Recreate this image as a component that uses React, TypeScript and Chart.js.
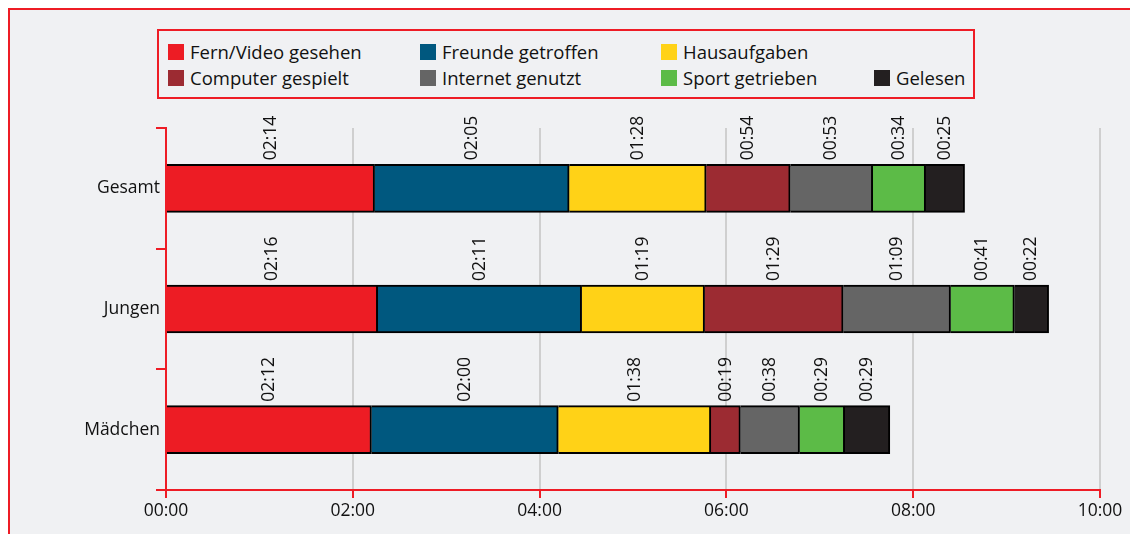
import React, { useEffect, useRef } from "react";
import { Chart, registerables } from "chart.js";

Chart.register(...registerables);

const categories = ["Gesamt", "Jungen", "Mädchen"];
const activityNames = [
  "Fern/Video gesehen",
  "Freunde getroffen",
  "Hausaufgaben",
  "Computer gespielt",
  "Internet genutzt",
  "Sport getrieben",
  "Gelesen",
];
// minutes per day, order: Gesamt, Jungen, Mädchen
const fernVideo = [134, 136, 132];
const freunde = [125, 131, 120];
const hausaufgaben = [88, 79, 98];
const computer = [54, 89, 19];
const internet = [53, 69, 38];
const sport = [34, 41, 29];
const gelesen = [25, 22, 29];
const seriesValues = [fernVideo, freunde, hausaufgaben, computer, internet, sport, gelesen];
const seriesColors = ["#ed1c24", "#00587f", "#ffd217", "#9c2b32", "#656565", "#5cbb47", "#231f20"];
const xTickValues = [0, 120, 240, 360, 480, 600];

const RED = "#ee1c25";
const FONT = "'Open Sans', 'Noto Sans', sans-serif";
const TEXT = "#111111";

function fmt(min: number): string {
  const h = Math.floor(min / 60);
  const m = Math.round(min % 60);
  return String(h).padStart(2, "0") + ":" + String(m).padStart(2, "0");
}

const labelPlugin = {
  id: "segLabels",
  afterDatasetsDraw(chart: any) {
    const ctx = chart.ctx;
    ctx.save();
    ctx.font = "17.5px " + FONT;
    ctx.fillStyle = TEXT;
    ctx.textAlign = "left";
    ctx.textBaseline = "middle";
    chart.data.datasets.forEach((ds: any, di: number) => {
      const meta = chart.getDatasetMeta(di);
      meta.data.forEach((bar: any, i: number) => {
        const p = bar.getProps(["x", "y", "base", "height"], true);
        const cx = (p.x + p.base) / 2;
        const top = p.y - p.height / 2;
        ctx.save();
        ctx.translate(cx, top - 4);
        ctx.rotate(-Math.PI / 2);
        ctx.fillText(fmt(ds.data[i]), 0, 0);
        ctx.restore();
      });
    });
    ctx.restore();
  },
};

const legendCols = [160, 412, 653, 866];
const legendRows = [36, 62];
const legendPos = [
  [0, 0], [1, 0], [2, 0], [0, 1], [1, 1], [2, 1], [3, 1],
];

export default function App() {
  const ref = useRef<HTMLCanvasElement>(null);
  useEffect(() => {
    if (!ref.current) return;
    const chart = new Chart(ref.current, {
      type: "bar",
      data: {
        labels: categories,
        datasets: seriesValues.map((vals, i) => ({
          label: activityNames[i],
          data: vals,
          backgroundColor: seriesColors[i],
          borderColor: "#000000",
          borderWidth: 2,
          barThickness: 48,
        })),
      },
      options: {
        indexAxis: "y",
        animation: false,
        responsive: false,
        maintainAspectRatio: false,
        layout: { padding: { top: 120, right: 38, left: 0, bottom: 0 } },
        plugins: { legend: { display: false }, tooltip: { enabled: false } },
        scales: {
          x: {
            stacked: true,
            min: 0,
            max: 600,
            afterBuildTicks: (s: any) => {
              s.ticks = xTickValues.map((v) => ({ value: v }));
            },
            afterFit: (s: any) => {
              s.height = 44;
            },
            ticks: {
              callback: (v: any) => fmt(Number(v)),
              font: { size: 17.5, family: FONT },
              color: TEXT,
              padding: 3,
              maxRotation: 0,
            },
            grid: {
              color: (c: any) => (c.tick && c.tick.value === 0 ? "rgba(0,0,0,0)" : "#cfcfcf"),
              tickColor: RED,
              lineWidth: 2,
              tickLength: 8,
            },
            border: { color: RED, width: 2 },
          },
          y: {
            stacked: true,
            afterFit: (s: any) => {
              s.width = 158;
            },
            ticks: {
              font: { size: 17.5, family: FONT },
              color: TEXT,
              padding: -4,
            },
            grid: {
              offset: true,
              drawOnChartArea: false,
              color: RED,
              tickColor: RED,
              lineWidth: 2,
              tickLength: 10,
            },
            border: { color: RED, width: 2 },
          },
        },
      },
      plugins: [labelPlugin],
    });
    return () => chart.destroy();
  }, []);

  return (
    <div style={{ position: "relative", width: 1130, height: 526, background: "#f0f1f3", fontFamily: FONT, overflow: "hidden" }}>
      <div style={{ position: "absolute", left: 0, top: 0, width: 1130, height: 2, background: RED }} />
      <div style={{ position: "absolute", left: 0, top: 0, width: 2, height: 526, background: RED }} />
      <div
        style={{
          position: "absolute",
          left: 149,
          top: 21,
          width: 818,
          height: 70,
          border: "2px solid " + RED,
          boxSizing: "border-box",
        }}
      />
      {activityNames.map((name, i) => {
        const [c, r] = legendPos[i];
        return (
          <div
            key={name}
            style={{
              position: "absolute",
              left: legendCols[c],
              top: legendRows[r],
              height: 16,
              display: "flex",
              alignItems: "center",
              whiteSpace: "nowrap",
            }}
          >
            <span style={{ width: 16, height: 16, background: seriesColors[i], display: "inline-block", flex: "none" }} />
            <span style={{ marginLeft: 6, fontSize: 18.5, color: TEXT, lineHeight: "16px" }}>{name}</span>
          </div>
        );
      })}
      <canvas ref={ref} width={1130} height={526} style={{ position: "absolute", left: 0, top: 0 }} />
    </div>
  );
}
